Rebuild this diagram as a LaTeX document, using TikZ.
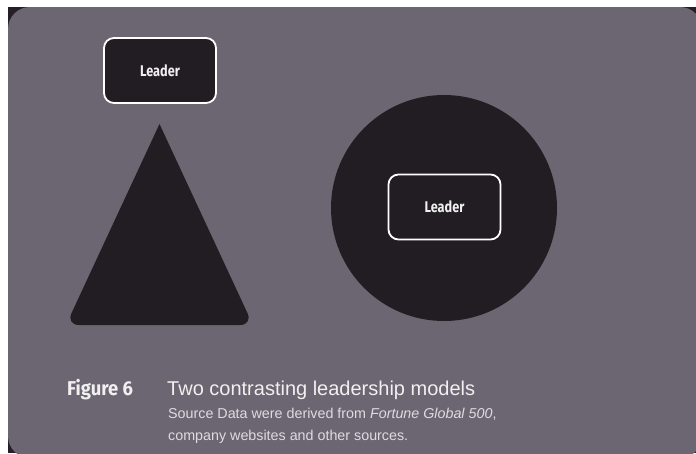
\documentclass[tikz,border=0pt]{standalone}
\usepackage{fontspec}
\setmainfont{Liberation Sans}
\newfontfamily\condbold[FakeStretch=0.82]{Fira Sans}
\newfontfamily\figfont[FakeStretch=0.92]{Fira Sans}
\newfontfamily\capfont{Liberation Sans}
\definecolor{bggray}{RGB}{108,101,114}
\definecolor{darkout}{RGB}{38,31,42}
\definecolor{shape}{RGB}{34,29,35}
\definecolor{txtw}{RGB}{240,240,240}
\definecolor{txtg}{RGB}{222,220,224}
\tikzset{
  leaderbox/.style={draw=white, line width=1.8pt, fill=shape, rounded corners=10pt,
    minimum width=112pt, minimum height=65pt, inner sep=0pt,
    text=txtw, font=\condbold\bfseries\fontsize{15.5}{18}\selectfont},
  darkshape/.style={fill=shape},
  captext/.style={anchor=base west, inner sep=0pt}
}
\begin{document}
\begin{tikzpicture}[x=1pt,y=-1pt]
\useasboundingbox (0,0) rectangle (696,453);
\fill[white] (0,0) rectangle (696,453);
\fill[darkout] (8,7) rectangle (696,453);
\fill[bggray, rounded corners=22pt] (8,7) rectangle (702,458);
% triangle (pyramid)
\fill[darkshape] (159.5,124) [rounded corners=13pt] -- (66,325) -- (253,325) [sharp corners] -- cycle;
% circle
\node[circle, darkshape, minimum size=226pt, inner sep=0pt] (circ) at (444,208) {};
% leader boxes
\node[leaderbox] (lead1) at (160,70.5) {Leader};
\node[leaderbox] (lead2) at (444.5,207) {Leader};
% caption
\node[captext, text=txtw, font=\figfont\bfseries\fontsize{20}{24}\selectfont] (fig) at (67,395) {Figure 6};
\node[captext, text=txtw, font=\capfont\fontsize{20}{24}\selectfont] (title) at (167,395) {Two contrasting leadership models};
\node[captext, text=txtg, font=\capfont\fontsize{14.3}{17}\selectfont] (src1) at (168,418) {Source Data were derived from \textit{Fortune Global 500},};
\node[captext, text=txtg, font=\capfont\fontsize{14.3}{17}\selectfont] (src2) at (168,440) {company websites and other sources.};
\end{tikzpicture}
\end{document}
